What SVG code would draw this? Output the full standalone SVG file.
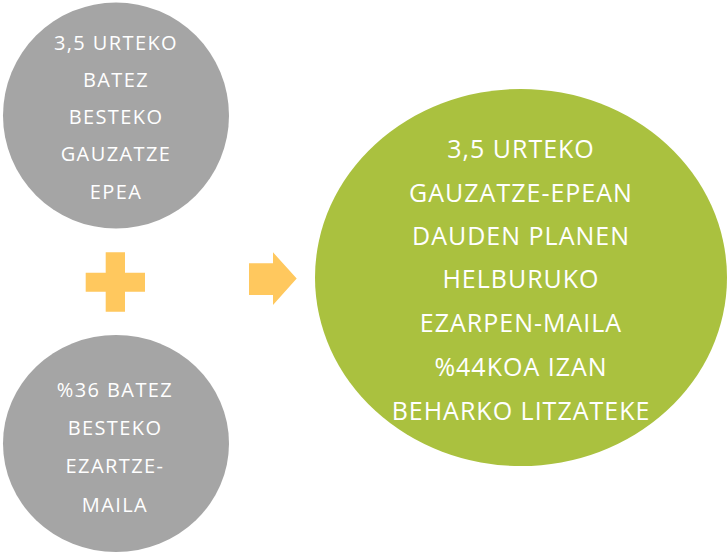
<svg xmlns="http://www.w3.org/2000/svg" width="728" height="554" viewBox="0 0 728 554">
<style>
.grey{fill:#A5A5A5}
.green{fill:#AAC13F}
.sym{fill:#FFC85E}
.t{font-family:"Open Sans","Liberation Sans",sans-serif;fill:#FFFFFF;text-anchor:middle}
.s{font-size:20px;letter-spacing:1.4px}
.b{font-size:25px;letter-spacing:1px}
</style>
<rect width="728" height="554" fill="#FFFFFF"/>
<g id="node-duration">
<ellipse class="grey" cx="116" cy="115.5" rx="113" ry="113"/>
<text class="t s" x="116" y="50">3,5 URTEKO</text>
<text class="t s" x="116" y="87">BATEZ</text>
<text class="t s" x="116" y="124">BESTEKO</text>
<text class="t s" x="116" y="161">GAUZATZE</text>
<text class="t s" x="116" y="199">EPEA</text>
</g>
<g id="node-rate">
<ellipse class="grey" cx="116" cy="443.5" rx="113" ry="108.5"/>
<text class="t s" x="115" y="397">%36 BATEZ</text>
<text class="t s" x="115" y="435">BESTEKO</text>
<text class="t s" x="115" y="473">EZARTZE-</text>
<text class="t s" x="115" y="512">MAILA</text>
</g>
<g id="node-plus">
<path class="sym" d="M105.7 252.3H125V272.7H145V291.7H125V311.7H105.7V291.7H85.7V272.7H105.7Z"/>
</g>
<g id="connectors">
<path class="sym" d="M249 263.3H273V252.3L296.7 278.5L273 305V295H249Z"/>
</g>
<g id="node-result">
<ellipse class="green" cx="521" cy="277.5" rx="206" ry="188.5"/>
<text class="t b" x="521" y="158">3,5 URTEKO</text>
<text class="t b" x="521" y="202">GAUZATZE-EPEAN</text>
<text class="t b" x="521" y="245">DAUDEN PLANEN</text>
<text class="t b" x="521" y="288">HELBURUKO</text>
<text class="t b" x="521" y="332">EZARPEN-MAILA</text>
<text class="t b" x="521" y="376">%44KOA IZAN</text>
<text class="t b" x="521" y="420">BEHARKO LITZATEKE</text>
</g>
</svg>
